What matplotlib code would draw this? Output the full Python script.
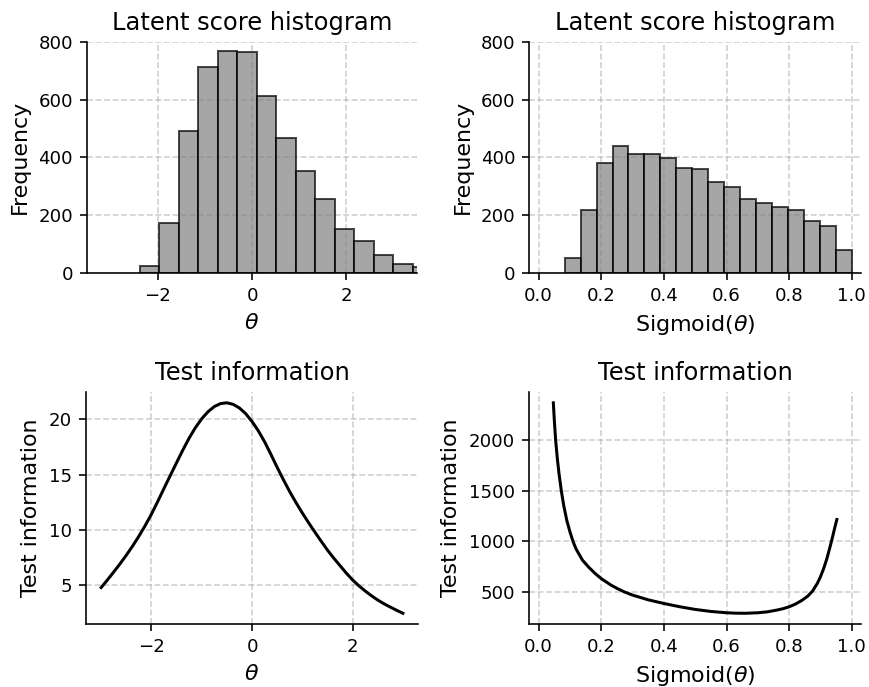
import numpy as np
import matplotlib
matplotlib.use("Agg")
import matplotlib.pyplot as plt

# histogram of theta (bin edges + counts)
theta_edges = np.array([-2.38, -1.966, -1.553, -1.139, -0.726, -0.312, 0.102,
                        0.515, 0.929, 1.342, 1.756, 2.170, 2.583, 2.997, 3.410, 3.824])
theta_counts = np.array([25, 171, 491, 712, 768, 766, 612, 468, 352, 255, 150, 111, 62, 29, 20])

# histogram of sigmoid(theta)
sig_edges = np.array([0.083, 0.134, 0.185, 0.236, 0.287, 0.338, 0.388, 0.439, 0.490,
                      0.541, 0.592, 0.643, 0.694, 0.745, 0.796, 0.847, 0.898, 0.949, 1.0])
sig_counts = np.array([50, 219, 381, 439, 411, 412, 396, 363, 361, 314, 296, 255,
                       242, 229, 217, 181, 163, 79])

# test information over theta
theta = np.array([-3.0, -2.875, -2.75, -2.625, -2.5, -2.375, -2.25, -2.125, -2.0,
                  -1.875, -1.75, -1.625, -1.5, -1.375, -1.25, -1.125, -1.0,
                  -0.875, -0.75, -0.625, -0.5, -0.375, -0.25, -0.125, 0.0,
                  0.125, 0.25, 0.375, 0.5, 0.625, 0.75, 0.875, 1.0,
                  1.125, 1.25, 1.375, 1.5, 1.625, 1.75, 1.875, 2.0,
                  2.125, 2.25, 2.375, 2.5, 2.625, 2.75, 2.875, 3.0])
info_theta = np.array([4.75, 5.44, 6.16, 6.90, 7.68, 8.51, 9.40, 10.36, 11.40,
                       12.55, 13.74, 14.91, 16.07, 17.22, 18.30, 19.25, 20.05,
                       20.69, 21.16, 21.43, 21.50, 21.36, 21.03, 20.51, 19.81,
                       18.96, 17.97, 16.83, 15.65, 14.52, 13.44, 12.45, 11.51,
                       10.63, 9.78, 8.95, 8.15, 7.42, 6.74, 6.06, 5.44,
                       4.91, 4.44, 4.01, 3.62, 3.28, 2.98, 2.69, 2.42])

# test information over sigmoid(theta)
sig = np.array([0.047, 0.05, 0.0544, 0.06, 0.065, 0.0725, 0.08, 0.09, 0.10, 0.1098,
                0.12, 0.14, 0.16, 0.18, 0.20, 0.23, 0.25, 0.274, 0.30, 0.35,
                0.40, 0.45, 0.50, 0.55, 0.60, 0.63, 0.66, 0.70, 0.73, 0.76,
                0.78, 0.80, 0.82, 0.84, 0.86, 0.875, 0.89, 0.90, 0.91, 0.92,
                0.93, 0.935, 0.94, 0.945, 0.9523])
info_sig = np.array([2372, 2206, 2000, 1813, 1674, 1500, 1359, 1208, 1096, 1000,
                     923, 815, 745, 684, 632, 570, 536, 500, 469, 422,
                     386, 354, 327, 307, 294, 290, 289, 294, 303, 320,
                     334, 353, 380, 415, 460, 510, 585, 650, 730, 825,
                     940, 1000, 1062, 1128, 1217])

dpi = 145
fig = plt.figure(figsize=(869 / dpi, 687 / dpi), dpi=dpi)
ax1 = fig.add_axes([0.100, 0.603, 0.380, 0.336])
ax2 = fig.add_axes([0.609, 0.603, 0.382, 0.336])
ax3 = fig.add_axes([0.099, 0.092, 0.382, 0.337])
ax4 = fig.add_axes([0.609, 0.092, 0.382, 0.337])

title_fs = 12
label_fs = 11
tick_fs = 9

ax1.bar(theta_edges[:-1], theta_counts, width=np.diff(theta_edges), align="edge",
        color="gray", edgecolor="black", alpha=0.7, linewidth=1)
ax1.set_xlim(-3.5, 3.5)
ax1.set_ylim(0, 800)
ax1.set_title("Latent score histogram", fontsize=title_fs)
ax1.set_xlabel(r"$\theta$", fontsize=label_fs)
ax1.set_ylabel("Frequency", fontsize=label_fs)

ax2.bar(sig_edges[:-1], sig_counts, width=np.diff(sig_edges), align="edge",
        color="gray", edgecolor="black", alpha=0.7, linewidth=1)
ax2.set_xlim(-0.03, 1.03)
ax2.set_ylim(0, 800)
ax2.set_title("Latent score histogram", fontsize=title_fs)
ax2.set_xlabel(r"Sigmoid($\theta$)", fontsize=label_fs)
ax2.set_ylabel("Frequency", fontsize=label_fs)

ax3.plot(theta, info_theta, color="black", linewidth=1.5)
ax3.set_title("Test information", fontsize=title_fs)
ax3.set_xlabel(r"$\theta$", fontsize=label_fs)
ax3.set_ylabel("Test information", fontsize=label_fs)

ax4.plot(sig, info_sig, color="black", linewidth=1.5)
ax4.set_xlim(-0.03, 1.03)
ax4.set_title("Test information", fontsize=title_fs)
ax4.set_xlabel(r"Sigmoid($\theta$)", fontsize=label_fs)
ax4.set_ylabel("Test information", fontsize=label_fs)

for ax in [ax1, ax2, ax3, ax4]:
    ax.set_axisbelow(True)
    ax.grid(True, linestyle="--", alpha=0.6)
    ax.spines["top"].set_visible(False)
    ax.spines["right"].set_visible(False)
    ax.tick_params(labelsize=tick_fs)

fig.savefig("out.png", dpi=dpi)
